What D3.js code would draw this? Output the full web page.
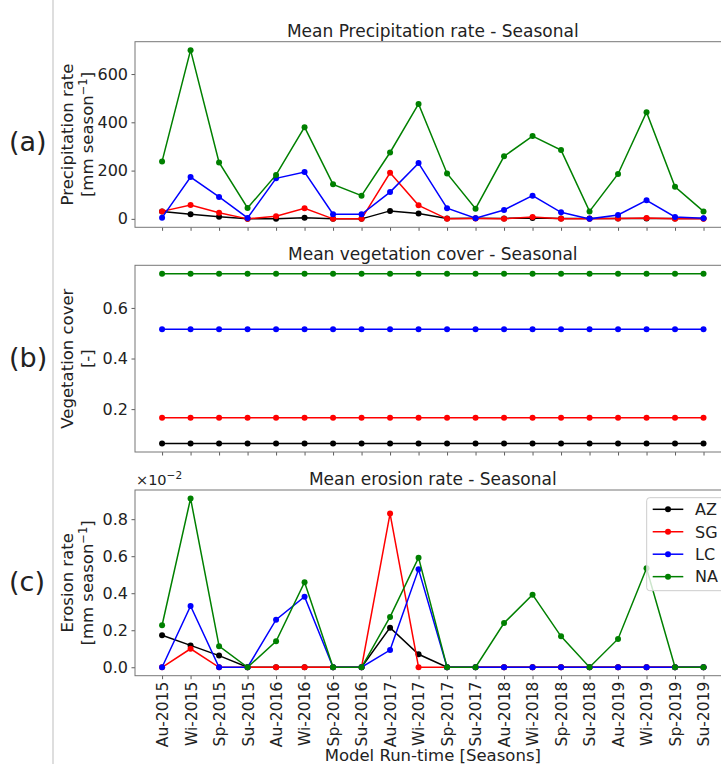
<!DOCTYPE html>
<html><head><meta charset="utf-8">
<script src="https://cdn.jsdelivr.net/npm/d3@7"></script>
<style>
body{margin:0;background:#fff;}
text{font-family:"DejaVu Sans",sans-serif;fill:#222;}
</style></head>
<body><svg id="c" width="721" height="764"></svg>
<script>
const seasons = ["Au-2015","Wi-2015","Sp-2015","Su-2015","Au-2016","Wi-2016","Sp-2016","Su-2016","Au-2017","Wi-2017","Sp-2017","Su-2017","Au-2018","Wi-2018","Sp-2018","Su-2018","Au-2019","Wi-2019","Sp-2019","Su-2019"];
const seriesNames = ["AZ","SG","LC","NA"];
const seriesColors = ["#000000","#ff0000","#0000ff","#008000"];

// Precipitation rate [mm season^-1]
const precipAZ = [31,19,9,0,0,5,0,0,33,22,2,3,2,4,1,1,1,2,1,1];
const precipSG = [31,57,25,0,11,44,0,0,191,56,0,1,0,8,0,0,2,4,0,0];
const precipLC = [5,173,91,4,168,194,19,19,111,231,44,3,37,96,27,0,16,77,8,3];
const precipNA = [238,699,234,45,182,380,143,96,275,476,188,42,259,343,285,31,186,442,133,31];

// Vegetation cover [-]
const vegAZ = [0.064,0.064,0.064,0.064,0.064,0.064,0.064,0.064,0.064,0.064,0.064,0.064,0.064,0.064,0.064,0.064,0.064,0.064,0.064,0.064];
const vegSG = [0.166,0.166,0.166,0.166,0.166,0.166,0.166,0.166,0.166,0.166,0.166,0.166,0.166,0.166,0.166,0.166,0.166,0.166,0.166,0.166];
const vegLC = [0.516,0.516,0.516,0.516,0.516,0.516,0.516,0.516,0.516,0.516,0.516,0.516,0.516,0.516,0.516,0.516,0.516,0.516,0.516,0.516];
const vegNA = [0.735,0.735,0.735,0.735,0.735,0.735,0.735,0.735,0.735,0.735,0.735,0.735,0.735,0.735,0.735,0.735,0.735,0.735,0.735,0.735];

// Erosion rate [mm season^-1]
const eroAZ = [0.00173,0.00118,0.00063,0,0,0,0,0,0.00214,0.00070,0,0,0,0,0,0,0,0,0,0];
const eroSG = [0,0.00100,0,0,0,0,0,0,0.00830,0,0,0,0,0,0,0,0,0,0,0];
const eroLC = [0,0.00331,0,0,0.00257,0.00381,0,0,0.00093,0.00529,0,0,0,0,0,0,0,0,0,0];
const eroNA = [0.00227,0.00912,0.00114,0,0.00140,0.00459,0,0,0.00272,0.00592,0,0,0.00239,0.00392,0.00167,0,0.00153,0.00535,0,0];

const precipTicks = [0,200,400,600];
const vegTicks = [0.2,0.4,0.6];
const eroTicks = [0,0.002,0.004,0.006,0.008];

const svg = d3.select("#c");
const X0 = 135, X1 = 730.6;
const x = d3.scalePoint().domain(seasons).range([X0, X1]).padding(0.95);

// figure border line
svg.append("line").attr("x1",53).attr("x2",53).attr("y1",0).attr("y2",764)
  .attr("stroke","#c8c8c8").attr("stroke-width",1.2);

function panel(cfg){
  const all = cfg.data.flat();
  const ext = d3.extent(all);
  const pad = (ext[1]-ext[0])*0.05;
  const y = d3.scaleLinear().domain([ext[0]-pad, ext[1]+pad]).range([cfg.bottom, cfg.top]);
  const g = svg.append("g");
  const xa = g.append("g").attr("transform",`translate(0,${cfg.bottom})`)
    .call(d3.axisBottom(x).tickSize(3.5).tickPadding(3.5).tickFormat(cfg.xlabels ? d=>d : ()=>""));
  xa.select(".domain").remove();
  xa.selectAll("line").attr("stroke","#333").attr("stroke-width",0.8);
  if(cfg.xlabels){
    xa.selectAll("text").attr("font-size",15.5).attr("fill","#222")
      .attr("transform","rotate(-90)").attr("text-anchor","end")
      .attr("x",-6).attr("y",0).attr("dy","0.35em");
  }
  const ya = g.append("g").attr("transform",`translate(${X0},0)`)
    .call(d3.axisLeft(y).tickValues(cfg.ticks).tickSize(3.5).tickPadding(3.5).tickFormat(cfg.fmt));
  ya.select(".domain").remove();
  ya.selectAll("line").attr("stroke","#333").attr("stroke-width",0.8);
  ya.selectAll("text").attr("font-size",16).attr("fill","#222");
  g.append("rect").attr("x",X0).attr("y",cfg.top).attr("width",X1-X0).attr("height",cfg.bottom-cfg.top)
    .attr("fill","none").attr("stroke","#777").attr("stroke-width",1);
  const line = d3.line().x((d,i)=>x(seasons[i])).y(d=>y(d));
  cfg.data.forEach((arr,k)=>{
    g.append("path").datum(arr).attr("d",line).attr("fill","none")
      .attr("stroke",seriesColors[k]).attr("stroke-width",1.5);
    g.selectAll(null).data(arr).enter().append("circle")
      .attr("cx",(d,i)=>x(seasons[i])).attr("cy",d=>y(d)).attr("r",3)
      .attr("fill",seriesColors[k]);
  });
  g.append("text").attr("x",(X0+X1)/2).attr("y",cfg.top-5).attr("text-anchor","middle")
    .attr("font-size",17).text(cfg.title);
  const cy = (cfg.top+cfg.bottom)/2;
  const yl = g.append("text").attr("transform",`translate(73,${cy}) rotate(-90)`)
    .attr("text-anchor","middle").attr("font-size",16.5);
  yl.append("tspan").attr("x",0).attr("y",0).text(cfg.ylab1);
  const t2 = yl.append("tspan").attr("x",0).attr("y",20);
  cfg.ylab2(t2, yl);
  g.append("text").attr("x",9).attr("y",cfg.letterY).attr("font-size",27).text(cfg.letter);
  return {g,y};
}

function unitLabel(t2, yl){
  t2.text("[mm season");
  yl.append("tspan").attr("dy",-6).attr("font-size",11.5).text("\u22121");
  yl.append("tspan").attr("dy",6).text("]");
}

panel({data:[precipAZ,precipSG,precipLC,precipNA], top:41.7, bottom:227.3, ticks:precipTicks,
  fmt:d3.format("d"), title:"Mean Precipitation rate - Seasonal", ylab1:"Precipitation rate",
  ylab2:unitLabel, letter:"(a)", letterY:151});
panel({data:[vegAZ,vegSG,vegLC,vegNA], top:265.3, bottom:452, ticks:vegTicks,
  fmt:d3.format(".1f"), title:"Mean vegetation cover - Seasonal", ylab1:"Vegetation cover",
  ylab2:(t2)=>t2.text("[-]"), letter:"(b)", letterY:367});
panel({data:[eroAZ,eroSG,eroLC,eroNA], top:490, bottom:675.7, ticks:eroTicks,
  fmt:d=>d3.format(".1f")(d/0.01), title:"Mean erosion rate - Seasonal", ylab1:"Erosion rate",
  ylab2:unitLabel, letter:"(c)", letterY:591, xlabels:true});

const off = svg.append("text").attr("x",136).attr("y",485).attr("font-size",14.5);
off.append("tspan").text("\u00d710");
off.append("tspan").attr("dy",-6).attr("font-size",10.5).text("\u22122");

svg.append("text").attr("x",(X0+X1)/2).attr("y",761).attr("text-anchor","middle")
  .attr("font-size",16.5).text("Model Run-time [Seasons]");

const lg = svg.append("g");
lg.append("rect").attr("x",646.7).attr("y",497.7).attr("width",82).attr("height",93)
  .attr("rx",3).attr("fill","rgba(255,255,255,0.8)").attr("stroke","#ccc").attr("stroke-width",1);
const ly0 = 509.3, ldy = 22.45;
seriesNames.forEach((n,k)=>{
  const yy = ly0 + k*ldy;
  lg.append("line").attr("x1",652.7).attr("x2",683.3).attr("y1",yy).attr("y2",yy)
    .attr("stroke",seriesColors[k]).attr("stroke-width",1.5);
  lg.append("circle").attr("cx",668).attr("cy",yy).attr("r",3).attr("fill",seriesColors[k]);
  lg.append("text").attr("x",695).attr("y",yy).attr("dy","0.36em").attr("font-size",16).text(n);
});
</script></body></html>
